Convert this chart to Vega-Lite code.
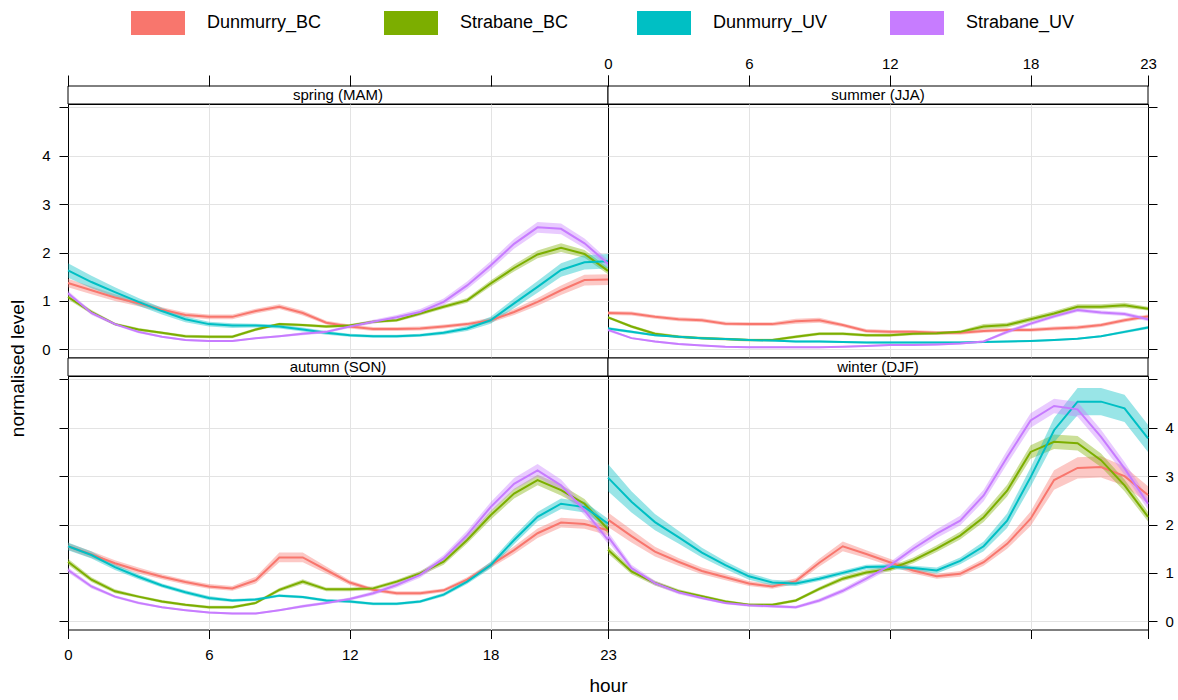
{
"$schema":"https://vega.github.io/schema/vega-lite/v6.json",
"padding":{"left":8,"top":-4,"right":2,"bottom":2},
"config":{
 "font":"Liberation Sans",
 "view":{"stroke":"#000","strokeWidth":1},
 "axis":{"domain":false,"grid":true,"gridColor":"#e3e3e3","gridWidth":1,"tickColor":"#000","tickWidth":1,"tickSize":9,"labelColor":"#000","labelFont":"Liberation Sans","labelFontSize":15,"labelFlush":false,"labelOverlap":false,"titleFont":"Liberation Sans","titleFontSize":19,"titleFontWeight":"normal","titleColor":"#000"}
},
"datasets":{
"spring":[
{"hour":0,"series":"Dunmurry_BC","mean":1.37,"lo":1.28,"hi":1.46},{"hour":1,"series":"Dunmurry_BC","mean":1.22,"lo":1.14,"hi":1.30},{"hour":2,"series":"Dunmurry_BC","mean":1.07,"lo":1.00,"hi":1.14},{"hour":3,"series":"Dunmurry_BC","mean":0.95,"lo":0.89,"hi":1.01},{"hour":4,"series":"Dunmurry_BC","mean":0.82,"lo":0.77,"hi":0.87},{"hour":5,"series":"Dunmurry_BC","mean":0.71,"lo":0.66,"hi":0.76},{"hour":6,"series":"Dunmurry_BC","mean":0.67,"lo":0.62,"hi":0.72},{"hour":7,"series":"Dunmurry_BC","mean":0.67,"lo":0.62,"hi":0.72},{"hour":8,"series":"Dunmurry_BC","mean":0.79,"lo":0.74,"hi":0.84},{"hour":9,"series":"Dunmurry_BC","mean":0.88,"lo":0.83,"hi":0.93},{"hour":10,"series":"Dunmurry_BC","mean":0.75,"lo":0.70,"hi":0.80},{"hour":11,"series":"Dunmurry_BC","mean":0.55,"lo":0.51,"hi":0.59},{"hour":12,"series":"Dunmurry_BC","mean":0.47,"lo":0.43,"hi":0.51},{"hour":13,"series":"Dunmurry_BC","mean":0.42,"lo":0.38,"hi":0.46},{"hour":14,"series":"Dunmurry_BC","mean":0.42,"lo":0.38,"hi":0.46},{"hour":15,"series":"Dunmurry_BC","mean":0.43,"lo":0.39,"hi":0.47},{"hour":16,"series":"Dunmurry_BC","mean":0.47,"lo":0.43,"hi":0.51},{"hour":17,"series":"Dunmurry_BC","mean":0.52,"lo":0.48,"hi":0.56},{"hour":18,"series":"Dunmurry_BC","mean":0.60,"lo":0.55,"hi":0.65},{"hour":19,"series":"Dunmurry_BC","mean":0.77,"lo":0.71,"hi":0.83},{"hour":20,"series":"Dunmurry_BC","mean":0.98,"lo":0.90,"hi":1.06},{"hour":21,"series":"Dunmurry_BC","mean":1.22,"lo":1.12,"hi":1.32},{"hour":22,"series":"Dunmurry_BC","mean":1.43,"lo":1.32,"hi":1.54},{"hour":23,"series":"Dunmurry_BC","mean":1.44,"lo":1.33,"hi":1.55},
{"hour":0,"series":"Strabane_BC","mean":1.08,"lo":1.03,"hi":1.13},{"hour":1,"series":"Strabane_BC","mean":0.77,"lo":0.73,"hi":0.81},{"hour":2,"series":"Strabane_BC","mean":0.52,"lo":0.49,"hi":0.55},{"hour":3,"series":"Strabane_BC","mean":0.41,"lo":0.38,"hi":0.44},{"hour":4,"series":"Strabane_BC","mean":0.34,"lo":0.31,"hi":0.37},{"hour":5,"series":"Strabane_BC","mean":0.27,"lo":0.24,"hi":0.30},{"hour":6,"series":"Strabane_BC","mean":0.26,"lo":0.23,"hi":0.29},{"hour":7,"series":"Strabane_BC","mean":0.26,"lo":0.23,"hi":0.29},{"hour":8,"series":"Strabane_BC","mean":0.41,"lo":0.38,"hi":0.44},{"hour":9,"series":"Strabane_BC","mean":0.52,"lo":0.49,"hi":0.55},{"hour":10,"series":"Strabane_BC","mean":0.50,"lo":0.47,"hi":0.53},{"hour":11,"series":"Strabane_BC","mean":0.47,"lo":0.44,"hi":0.50},{"hour":12,"series":"Strabane_BC","mean":0.49,"lo":0.46,"hi":0.52},{"hour":13,"series":"Strabane_BC","mean":0.57,"lo":0.54,"hi":0.60},{"hour":14,"series":"Strabane_BC","mean":0.60,"lo":0.57,"hi":0.63},{"hour":15,"series":"Strabane_BC","mean":0.74,"lo":0.70,"hi":0.78},{"hour":16,"series":"Strabane_BC","mean":0.88,"lo":0.84,"hi":0.92},{"hour":17,"series":"Strabane_BC","mean":1.01,"lo":0.96,"hi":1.06},{"hour":18,"series":"Strabane_BC","mean":1.36,"lo":1.30,"hi":1.42},{"hour":19,"series":"Strabane_BC","mean":1.68,"lo":1.61,"hi":1.75},{"hour":20,"series":"Strabane_BC","mean":1.96,"lo":1.88,"hi":2.04},{"hour":21,"series":"Strabane_BC","mean":2.10,"lo":2.01,"hi":2.19},{"hour":22,"series":"Strabane_BC","mean":1.97,"lo":1.89,"hi":2.05},{"hour":23,"series":"Strabane_BC","mean":1.62,"lo":1.55,"hi":1.69},
{"hour":0,"series":"Dunmurry_UV","mean":1.63,"lo":1.48,"hi":1.78},{"hour":1,"series":"Dunmurry_UV","mean":1.39,"lo":1.26,"hi":1.52},{"hour":2,"series":"Dunmurry_UV","mean":1.18,"lo":1.08,"hi":1.28},{"hour":3,"series":"Dunmurry_UV","mean":0.98,"lo":0.90,"hi":1.06},{"hour":4,"series":"Dunmurry_UV","mean":0.79,"lo":0.72,"hi":0.86},{"hour":5,"series":"Dunmurry_UV","mean":0.62,"lo":0.56,"hi":0.68},{"hour":6,"series":"Dunmurry_UV","mean":0.52,"lo":0.47,"hi":0.57},{"hour":7,"series":"Dunmurry_UV","mean":0.49,"lo":0.44,"hi":0.54},{"hour":8,"series":"Dunmurry_UV","mean":0.49,"lo":0.45,"hi":0.53},{"hour":9,"series":"Dunmurry_UV","mean":0.47,"lo":0.43,"hi":0.51},{"hour":10,"series":"Dunmurry_UV","mean":0.41,"lo":0.37,"hi":0.45},{"hour":11,"series":"Dunmurry_UV","mean":0.34,"lo":0.30,"hi":0.38},{"hour":12,"series":"Dunmurry_UV","mean":0.29,"lo":0.26,"hi":0.32},{"hour":13,"series":"Dunmurry_UV","mean":0.27,"lo":0.24,"hi":0.30},{"hour":14,"series":"Dunmurry_UV","mean":0.27,"lo":0.24,"hi":0.30},{"hour":15,"series":"Dunmurry_UV","mean":0.29,"lo":0.26,"hi":0.32},{"hour":16,"series":"Dunmurry_UV","mean":0.34,"lo":0.30,"hi":0.38},{"hour":17,"series":"Dunmurry_UV","mean":0.43,"lo":0.38,"hi":0.48},{"hour":18,"series":"Dunmurry_UV","mean":0.60,"lo":0.53,"hi":0.67},{"hour":19,"series":"Dunmurry_UV","mean":0.95,"lo":0.85,"hi":1.05},{"hour":20,"series":"Dunmurry_UV","mean":1.29,"lo":1.17,"hi":1.41},{"hour":21,"series":"Dunmurry_UV","mean":1.64,"lo":1.50,"hi":1.78},{"hour":22,"series":"Dunmurry_UV","mean":1.80,"lo":1.65,"hi":1.95},{"hour":23,"series":"Dunmurry_UV","mean":1.82,"lo":1.67,"hi":1.97},
{"hour":0,"series":"Strabane_UV","mean":1.16,"lo":1.11,"hi":1.21},{"hour":1,"series":"Strabane_UV","mean":0.75,"lo":0.71,"hi":0.79},{"hour":2,"series":"Strabane_UV","mean":0.52,"lo":0.49,"hi":0.55},{"hour":3,"series":"Strabane_UV","mean":0.36,"lo":0.33,"hi":0.39},{"hour":4,"series":"Strabane_UV","mean":0.26,"lo":0.24,"hi":0.28},{"hour":5,"series":"Strabane_UV","mean":0.19,"lo":0.17,"hi":0.21},{"hour":6,"series":"Strabane_UV","mean":0.17,"lo":0.15,"hi":0.19},{"hour":7,"series":"Strabane_UV","mean":0.17,"lo":0.15,"hi":0.19},{"hour":8,"series":"Strabane_UV","mean":0.23,"lo":0.21,"hi":0.25},{"hour":9,"series":"Strabane_UV","mean":0.27,"lo":0.25,"hi":0.29},{"hour":10,"series":"Strabane_UV","mean":0.32,"lo":0.29,"hi":0.35},{"hour":11,"series":"Strabane_UV","mean":0.36,"lo":0.33,"hi":0.39},{"hour":12,"series":"Strabane_UV","mean":0.47,"lo":0.44,"hi":0.50},{"hour":13,"series":"Strabane_UV","mean":0.57,"lo":0.53,"hi":0.61},{"hour":14,"series":"Strabane_UV","mean":0.66,"lo":0.61,"hi":0.71},{"hour":15,"series":"Strabane_UV","mean":0.77,"lo":0.71,"hi":0.83},{"hour":16,"series":"Strabane_UV","mean":0.98,"lo":0.91,"hi":1.05},{"hour":17,"series":"Strabane_UV","mean":1.32,"lo":1.24,"hi":1.40},{"hour":18,"series":"Strabane_UV","mean":1.73,"lo":1.64,"hi":1.82},{"hour":19,"series":"Strabane_UV","mean":2.18,"lo":2.08,"hi":2.28},{"hour":20,"series":"Strabane_UV","mean":2.52,"lo":2.41,"hi":2.63},{"hour":21,"series":"Strabane_UV","mean":2.49,"lo":2.38,"hi":2.60},{"hour":22,"series":"Strabane_UV","mean":2.19,"lo":2.09,"hi":2.29},{"hour":23,"series":"Strabane_UV","mean":1.77,"lo":1.69,"hi":1.85}
],
"summer":[
{"hour":0,"series":"Dunmurry_BC","mean":0.75,"lo":0.71,"hi":0.79},{"hour":1,"series":"Dunmurry_BC","mean":0.74,"lo":0.70,"hi":0.78},{"hour":2,"series":"Dunmurry_BC","mean":0.67,"lo":0.63,"hi":0.71},{"hour":3,"series":"Dunmurry_BC","mean":0.62,"lo":0.58,"hi":0.66},{"hour":4,"series":"Dunmurry_BC","mean":0.60,"lo":0.56,"hi":0.64},{"hour":5,"series":"Dunmurry_BC","mean":0.53,"lo":0.49,"hi":0.57},{"hour":6,"series":"Dunmurry_BC","mean":0.52,"lo":0.48,"hi":0.56},{"hour":7,"series":"Dunmurry_BC","mean":0.52,"lo":0.48,"hi":0.56},{"hour":8,"series":"Dunmurry_BC","mean":0.58,"lo":0.53,"hi":0.63},{"hour":9,"series":"Dunmurry_BC","mean":0.60,"lo":0.55,"hi":0.65},{"hour":10,"series":"Dunmurry_BC","mean":0.50,"lo":0.46,"hi":0.54},{"hour":11,"series":"Dunmurry_BC","mean":0.38,"lo":0.34,"hi":0.42},{"hour":12,"series":"Dunmurry_BC","mean":0.36,"lo":0.32,"hi":0.40},{"hour":13,"series":"Dunmurry_BC","mean":0.36,"lo":0.32,"hi":0.40},{"hour":14,"series":"Dunmurry_BC","mean":0.34,"lo":0.30,"hi":0.38},{"hour":15,"series":"Dunmurry_BC","mean":0.34,"lo":0.30,"hi":0.38},{"hour":16,"series":"Dunmurry_BC","mean":0.38,"lo":0.34,"hi":0.42},{"hour":17,"series":"Dunmurry_BC","mean":0.40,"lo":0.36,"hi":0.44},{"hour":18,"series":"Dunmurry_BC","mean":0.40,"lo":0.36,"hi":0.44},{"hour":19,"series":"Dunmurry_BC","mean":0.43,"lo":0.39,"hi":0.47},{"hour":20,"series":"Dunmurry_BC","mean":0.45,"lo":0.41,"hi":0.49},{"hour":21,"series":"Dunmurry_BC","mean":0.50,"lo":0.46,"hi":0.54},{"hour":22,"series":"Dunmurry_BC","mean":0.60,"lo":0.56,"hi":0.64},{"hour":23,"series":"Dunmurry_BC","mean":0.68,"lo":0.64,"hi":0.72},
{"hour":0,"series":"Strabane_BC","mean":0.66,"lo":0.63,"hi":0.69},{"hour":1,"series":"Strabane_BC","mean":0.47,"lo":0.44,"hi":0.50},{"hour":2,"series":"Strabane_BC","mean":0.32,"lo":0.29,"hi":0.35},{"hour":3,"series":"Strabane_BC","mean":0.26,"lo":0.23,"hi":0.29},{"hour":4,"series":"Strabane_BC","mean":0.23,"lo":0.20,"hi":0.26},{"hour":5,"series":"Strabane_BC","mean":0.21,"lo":0.18,"hi":0.24},{"hour":6,"series":"Strabane_BC","mean":0.19,"lo":0.16,"hi":0.22},{"hour":7,"series":"Strabane_BC","mean":0.19,"lo":0.16,"hi":0.22},{"hour":8,"series":"Strabane_BC","mean":0.26,"lo":0.23,"hi":0.29},{"hour":9,"series":"Strabane_BC","mean":0.32,"lo":0.29,"hi":0.35},{"hour":10,"series":"Strabane_BC","mean":0.32,"lo":0.29,"hi":0.35},{"hour":11,"series":"Strabane_BC","mean":0.29,"lo":0.26,"hi":0.32},{"hour":12,"series":"Strabane_BC","mean":0.29,"lo":0.26,"hi":0.32},{"hour":13,"series":"Strabane_BC","mean":0.32,"lo":0.29,"hi":0.35},{"hour":14,"series":"Strabane_BC","mean":0.33,"lo":0.30,"hi":0.36},{"hour":15,"series":"Strabane_BC","mean":0.36,"lo":0.33,"hi":0.39},{"hour":16,"series":"Strabane_BC","mean":0.47,"lo":0.42,"hi":0.52},{"hour":17,"series":"Strabane_BC","mean":0.50,"lo":0.45,"hi":0.55},{"hour":18,"series":"Strabane_BC","mean":0.62,"lo":0.57,"hi":0.67},{"hour":19,"series":"Strabane_BC","mean":0.74,"lo":0.69,"hi":0.79},{"hour":20,"series":"Strabane_BC","mean":0.88,"lo":0.83,"hi":0.93},{"hour":21,"series":"Strabane_BC","mean":0.88,"lo":0.83,"hi":0.93},{"hour":22,"series":"Strabane_BC","mean":0.91,"lo":0.86,"hi":0.96},{"hour":23,"series":"Strabane_BC","mean":0.84,"lo":0.80,"hi":0.88},
{"hour":0,"series":"Dunmurry_UV","mean":0.43,"lo":0.40,"hi":0.46},{"hour":1,"series":"Dunmurry_UV","mean":0.36,"lo":0.33,"hi":0.39},{"hour":2,"series":"Dunmurry_UV","mean":0.29,"lo":0.27,"hi":0.31},{"hour":3,"series":"Dunmurry_UV","mean":0.26,"lo":0.24,"hi":0.28},{"hour":4,"series":"Dunmurry_UV","mean":0.23,"lo":0.21,"hi":0.25},{"hour":5,"series":"Dunmurry_UV","mean":0.21,"lo":0.19,"hi":0.23},{"hour":6,"series":"Dunmurry_UV","mean":0.19,"lo":0.17,"hi":0.21},{"hour":7,"series":"Dunmurry_UV","mean":0.18,"lo":0.16,"hi":0.20},{"hour":8,"series":"Dunmurry_UV","mean":0.16,"lo":0.14,"hi":0.18},{"hour":9,"series":"Dunmurry_UV","mean":0.16,"lo":0.14,"hi":0.18},{"hour":10,"series":"Dunmurry_UV","mean":0.15,"lo":0.13,"hi":0.17},{"hour":11,"series":"Dunmurry_UV","mean":0.14,"lo":0.12,"hi":0.16},{"hour":12,"series":"Dunmurry_UV","mean":0.14,"lo":0.12,"hi":0.16},{"hour":13,"series":"Dunmurry_UV","mean":0.14,"lo":0.12,"hi":0.16},{"hour":14,"series":"Dunmurry_UV","mean":0.14,"lo":0.12,"hi":0.16},{"hour":15,"series":"Dunmurry_UV","mean":0.14,"lo":0.12,"hi":0.16},{"hour":16,"series":"Dunmurry_UV","mean":0.15,"lo":0.13,"hi":0.17},{"hour":17,"series":"Dunmurry_UV","mean":0.16,"lo":0.14,"hi":0.18},{"hour":18,"series":"Dunmurry_UV","mean":0.17,"lo":0.15,"hi":0.19},{"hour":19,"series":"Dunmurry_UV","mean":0.19,"lo":0.17,"hi":0.21},{"hour":20,"series":"Dunmurry_UV","mean":0.22,"lo":0.20,"hi":0.24},{"hour":21,"series":"Dunmurry_UV","mean":0.27,"lo":0.25,"hi":0.29},{"hour":22,"series":"Dunmurry_UV","mean":0.36,"lo":0.33,"hi":0.39},{"hour":23,"series":"Dunmurry_UV","mean":0.45,"lo":0.42,"hi":0.48},
{"hour":0,"series":"Strabane_UV","mean":0.40,"lo":0.37,"hi":0.43},{"hour":1,"series":"Strabane_UV","mean":0.23,"lo":0.21,"hi":0.25},{"hour":2,"series":"Strabane_UV","mean":0.16,"lo":0.14,"hi":0.18},{"hour":3,"series":"Strabane_UV","mean":0.11,"lo":0.09,"hi":0.13},{"hour":4,"series":"Strabane_UV","mean":0.08,"lo":0.06,"hi":0.10},{"hour":5,"series":"Strabane_UV","mean":0.05,"lo":0.03,"hi":0.07},{"hour":6,"series":"Strabane_UV","mean":0.04,"lo":0.02,"hi":0.06},{"hour":7,"series":"Strabane_UV","mean":0.04,"lo":0.02,"hi":0.06},{"hour":8,"series":"Strabane_UV","mean":0.04,"lo":0.02,"hi":0.06},{"hour":9,"series":"Strabane_UV","mean":0.04,"lo":0.02,"hi":0.06},{"hour":10,"series":"Strabane_UV","mean":0.05,"lo":0.03,"hi":0.07},{"hour":11,"series":"Strabane_UV","mean":0.07,"lo":0.05,"hi":0.09},{"hour":12,"series":"Strabane_UV","mean":0.09,"lo":0.07,"hi":0.11},{"hour":13,"series":"Strabane_UV","mean":0.09,"lo":0.07,"hi":0.11},{"hour":14,"series":"Strabane_UV","mean":0.10,"lo":0.08,"hi":0.12},{"hour":15,"series":"Strabane_UV","mean":0.12,"lo":0.10,"hi":0.14},{"hour":16,"series":"Strabane_UV","mean":0.16,"lo":0.14,"hi":0.18},{"hour":17,"series":"Strabane_UV","mean":0.36,"lo":0.32,"hi":0.40},{"hour":18,"series":"Strabane_UV","mean":0.53,"lo":0.49,"hi":0.57},{"hour":19,"series":"Strabane_UV","mean":0.68,"lo":0.64,"hi":0.72},{"hour":20,"series":"Strabane_UV","mean":0.81,"lo":0.77,"hi":0.85},{"hour":21,"series":"Strabane_UV","mean":0.76,"lo":0.72,"hi":0.80},{"hour":22,"series":"Strabane_UV","mean":0.73,"lo":0.69,"hi":0.77},{"hour":23,"series":"Strabane_UV","mean":0.62,"lo":0.58,"hi":0.66}
],
"autumn":[
{"hour":0,"series":"Dunmurry_BC","mean":1.55,"lo":1.48,"hi":1.62},{"hour":1,"series":"Dunmurry_BC","mean":1.38,"lo":1.31,"hi":1.45},{"hour":2,"series":"Dunmurry_BC","mean":1.20,"lo":1.14,"hi":1.26},{"hour":3,"series":"Dunmurry_BC","mean":1.05,"lo":0.99,"hi":1.11},{"hour":4,"series":"Dunmurry_BC","mean":0.92,"lo":0.87,"hi":0.97},{"hour":5,"series":"Dunmurry_BC","mean":0.81,"lo":0.76,"hi":0.86},{"hour":6,"series":"Dunmurry_BC","mean":0.72,"lo":0.67,"hi":0.77},{"hour":7,"series":"Dunmurry_BC","mean":0.68,"lo":0.63,"hi":0.73},{"hour":8,"series":"Dunmurry_BC","mean":0.85,"lo":0.78,"hi":0.92},{"hour":9,"series":"Dunmurry_BC","mean":1.32,"lo":1.22,"hi":1.42},{"hour":10,"series":"Dunmurry_BC","mean":1.32,"lo":1.22,"hi":1.42},{"hour":11,"series":"Dunmurry_BC","mean":1.06,"lo":0.99,"hi":1.13},{"hour":12,"series":"Dunmurry_BC","mean":0.80,"lo":0.75,"hi":0.85},{"hour":13,"series":"Dunmurry_BC","mean":0.65,"lo":0.61,"hi":0.69},{"hour":14,"series":"Dunmurry_BC","mean":0.58,"lo":0.54,"hi":0.62},{"hour":15,"series":"Dunmurry_BC","mean":0.58,"lo":0.54,"hi":0.62},{"hour":16,"series":"Dunmurry_BC","mean":0.64,"lo":0.60,"hi":0.68},{"hour":17,"series":"Dunmurry_BC","mean":0.86,"lo":0.81,"hi":0.91},{"hour":18,"series":"Dunmurry_BC","mean":1.16,"lo":1.10,"hi":1.22},{"hour":19,"series":"Dunmurry_BC","mean":1.47,"lo":1.39,"hi":1.55},{"hour":20,"series":"Dunmurry_BC","mean":1.82,"lo":1.72,"hi":1.92},{"hour":21,"series":"Dunmurry_BC","mean":2.04,"lo":1.94,"hi":2.14},{"hour":22,"series":"Dunmurry_BC","mean":2.01,"lo":1.91,"hi":2.11},{"hour":23,"series":"Dunmurry_BC","mean":1.88,"lo":1.78,"hi":1.98},
{"hour":0,"series":"Strabane_BC","mean":1.23,"lo":1.17,"hi":1.29},{"hour":1,"series":"Strabane_BC","mean":0.86,"lo":0.81,"hi":0.91},{"hour":2,"series":"Strabane_BC","mean":0.62,"lo":0.58,"hi":0.66},{"hour":3,"series":"Strabane_BC","mean":0.51,"lo":0.48,"hi":0.54},{"hour":4,"series":"Strabane_BC","mean":0.41,"lo":0.38,"hi":0.44},{"hour":5,"series":"Strabane_BC","mean":0.34,"lo":0.31,"hi":0.37},{"hour":6,"series":"Strabane_BC","mean":0.29,"lo":0.26,"hi":0.32},{"hour":7,"series":"Strabane_BC","mean":0.29,"lo":0.26,"hi":0.32},{"hour":8,"series":"Strabane_BC","mean":0.38,"lo":0.35,"hi":0.41},{"hour":9,"series":"Strabane_BC","mean":0.65,"lo":0.61,"hi":0.69},{"hour":10,"series":"Strabane_BC","mean":0.82,"lo":0.77,"hi":0.87},{"hour":11,"series":"Strabane_BC","mean":0.66,"lo":0.62,"hi":0.70},{"hour":12,"series":"Strabane_BC","mean":0.66,"lo":0.62,"hi":0.70},{"hour":13,"series":"Strabane_BC","mean":0.68,"lo":0.64,"hi":0.72},{"hour":14,"series":"Strabane_BC","mean":0.82,"lo":0.78,"hi":0.86},{"hour":15,"series":"Strabane_BC","mean":0.99,"lo":0.94,"hi":1.04},{"hour":16,"series":"Strabane_BC","mean":1.23,"lo":1.17,"hi":1.29},{"hour":17,"series":"Strabane_BC","mean":1.68,"lo":1.61,"hi":1.75},{"hour":18,"series":"Strabane_BC","mean":2.19,"lo":2.10,"hi":2.28},{"hour":19,"series":"Strabane_BC","mean":2.64,"lo":2.54,"hi":2.74},{"hour":20,"series":"Strabane_BC","mean":2.92,"lo":2.81,"hi":3.03},{"hour":21,"series":"Strabane_BC","mean":2.71,"lo":2.60,"hi":2.82},{"hour":22,"series":"Strabane_BC","mean":2.43,"lo":2.33,"hi":2.53},{"hour":23,"series":"Strabane_BC","mean":1.90,"lo":1.81,"hi":1.99},
{"hour":0,"series":"Dunmurry_UV","mean":1.55,"lo":1.47,"hi":1.63},{"hour":1,"series":"Dunmurry_UV","mean":1.37,"lo":1.30,"hi":1.44},{"hour":2,"series":"Dunmurry_UV","mean":1.12,"lo":1.06,"hi":1.18},{"hour":3,"series":"Dunmurry_UV","mean":0.92,"lo":0.87,"hi":0.97},{"hour":4,"series":"Dunmurry_UV","mean":0.74,"lo":0.70,"hi":0.78},{"hour":5,"series":"Dunmurry_UV","mean":0.60,"lo":0.56,"hi":0.64},{"hour":6,"series":"Dunmurry_UV","mean":0.48,"lo":0.44,"hi":0.52},{"hour":7,"series":"Dunmurry_UV","mean":0.43,"lo":0.40,"hi":0.46},{"hour":8,"series":"Dunmurry_UV","mean":0.45,"lo":0.42,"hi":0.48},{"hour":9,"series":"Dunmurry_UV","mean":0.53,"lo":0.50,"hi":0.56},{"hour":10,"series":"Dunmurry_UV","mean":0.50,"lo":0.47,"hi":0.53},{"hour":11,"series":"Dunmurry_UV","mean":0.43,"lo":0.40,"hi":0.46},{"hour":12,"series":"Dunmurry_UV","mean":0.41,"lo":0.38,"hi":0.44},{"hour":13,"series":"Dunmurry_UV","mean":0.36,"lo":0.33,"hi":0.39},{"hour":14,"series":"Dunmurry_UV","mean":0.36,"lo":0.33,"hi":0.39},{"hour":15,"series":"Dunmurry_UV","mean":0.41,"lo":0.38,"hi":0.44},{"hour":16,"series":"Dunmurry_UV","mean":0.55,"lo":0.51,"hi":0.59},{"hour":17,"series":"Dunmurry_UV","mean":0.82,"lo":0.77,"hi":0.87},{"hour":18,"series":"Dunmurry_UV","mean":1.16,"lo":1.09,"hi":1.23},{"hour":19,"series":"Dunmurry_UV","mean":1.68,"lo":1.59,"hi":1.77},{"hour":20,"series":"Dunmurry_UV","mean":2.16,"lo":2.06,"hi":2.26},{"hour":21,"series":"Dunmurry_UV","mean":2.43,"lo":2.32,"hi":2.54},{"hour":22,"series":"Dunmurry_UV","mean":2.36,"lo":2.25,"hi":2.47},{"hour":23,"series":"Dunmurry_UV","mean":2.02,"lo":1.92,"hi":2.12},
{"hour":0,"series":"Strabane_UV","mean":1.06,"lo":1.01,"hi":1.11},{"hour":1,"series":"Strabane_UV","mean":0.72,"lo":0.68,"hi":0.76},{"hour":2,"series":"Strabane_UV","mean":0.51,"lo":0.48,"hi":0.54},{"hour":3,"series":"Strabane_UV","mean":0.38,"lo":0.35,"hi":0.41},{"hour":4,"series":"Strabane_UV","mean":0.29,"lo":0.27,"hi":0.31},{"hour":5,"series":"Strabane_UV","mean":0.23,"lo":0.21,"hi":0.25},{"hour":6,"series":"Strabane_UV","mean":0.18,"lo":0.16,"hi":0.20},{"hour":7,"series":"Strabane_UV","mean":0.16,"lo":0.14,"hi":0.18},{"hour":8,"series":"Strabane_UV","mean":0.16,"lo":0.14,"hi":0.18},{"hour":9,"series":"Strabane_UV","mean":0.23,"lo":0.21,"hi":0.25},{"hour":10,"series":"Strabane_UV","mean":0.31,"lo":0.28,"hi":0.34},{"hour":11,"series":"Strabane_UV","mean":0.38,"lo":0.35,"hi":0.41},{"hour":12,"series":"Strabane_UV","mean":0.46,"lo":0.43,"hi":0.49},{"hour":13,"series":"Strabane_UV","mean":0.58,"lo":0.54,"hi":0.62},{"hour":14,"series":"Strabane_UV","mean":0.75,"lo":0.70,"hi":0.80},{"hour":15,"series":"Strabane_UV","mean":0.96,"lo":0.90,"hi":1.02},{"hour":16,"series":"Strabane_UV","mean":1.30,"lo":1.23,"hi":1.37},{"hour":17,"series":"Strabane_UV","mean":1.78,"lo":1.69,"hi":1.87},{"hour":18,"series":"Strabane_UV","mean":2.36,"lo":2.26,"hi":2.46},{"hour":19,"series":"Strabane_UV","mean":2.84,"lo":2.72,"hi":2.96},{"hour":20,"series":"Strabane_UV","mean":3.12,"lo":2.99,"hi":3.25},{"hour":21,"series":"Strabane_UV","mean":2.81,"lo":2.69,"hi":2.93},{"hour":22,"series":"Strabane_UV","mean":2.29,"lo":2.19,"hi":2.39},{"hour":23,"series":"Strabane_UV","mean":1.68,"lo":1.60,"hi":1.76}
],
"winter":[
{"hour":0,"series":"Dunmurry_BC","mean":2.10,"lo":1.95,"hi":2.25},{"hour":1,"series":"Dunmurry_BC","mean":1.76,"lo":1.63,"hi":1.89},{"hour":2,"series":"Dunmurry_BC","mean":1.44,"lo":1.34,"hi":1.54},{"hour":3,"series":"Dunmurry_BC","mean":1.23,"lo":1.15,"hi":1.31},{"hour":4,"series":"Dunmurry_BC","mean":1.04,"lo":0.97,"hi":1.11},{"hour":5,"series":"Dunmurry_BC","mean":0.91,"lo":0.85,"hi":0.97},{"hour":6,"series":"Dunmurry_BC","mean":0.78,"lo":0.73,"hi":0.83},{"hour":7,"series":"Dunmurry_BC","mean":0.72,"lo":0.67,"hi":0.77},{"hour":8,"series":"Dunmurry_BC","mean":0.83,"lo":0.77,"hi":0.89},{"hour":9,"series":"Dunmurry_BC","mean":1.21,"lo":1.13,"hi":1.29},{"hour":10,"series":"Dunmurry_BC","mean":1.55,"lo":1.45,"hi":1.65},{"hour":11,"series":"Dunmurry_BC","mean":1.39,"lo":1.31,"hi":1.47},{"hour":12,"series":"Dunmurry_BC","mean":1.22,"lo":1.15,"hi":1.29},{"hour":13,"series":"Dunmurry_BC","mean":1.05,"lo":0.99,"hi":1.11},{"hour":14,"series":"Dunmurry_BC","mean":0.93,"lo":0.88,"hi":0.98},{"hour":15,"series":"Dunmurry_BC","mean":0.98,"lo":0.92,"hi":1.04},{"hour":16,"series":"Dunmurry_BC","mean":1.22,"lo":1.15,"hi":1.29},{"hour":17,"series":"Dunmurry_BC","mean":1.60,"lo":1.50,"hi":1.70},{"hour":18,"series":"Dunmurry_BC","mean":2.12,"lo":1.97,"hi":2.27},{"hour":19,"series":"Dunmurry_BC","mean":2.92,"lo":2.72,"hi":3.12},{"hour":20,"series":"Dunmurry_BC","mean":3.17,"lo":2.95,"hi":3.39},{"hour":21,"series":"Dunmurry_BC","mean":3.19,"lo":2.97,"hi":3.41},{"hour":22,"series":"Dunmurry_BC","mean":3.00,"lo":2.80,"hi":3.20},{"hour":23,"series":"Dunmurry_BC","mean":2.61,"lo":2.43,"hi":2.79},
{"hour":0,"series":"Strabane_BC","mean":1.48,"lo":1.40,"hi":1.56},{"hour":1,"series":"Strabane_BC","mean":1.03,"lo":0.97,"hi":1.09},{"hour":2,"series":"Strabane_BC","mean":0.79,"lo":0.74,"hi":0.84},{"hour":3,"series":"Strabane_BC","mean":0.62,"lo":0.58,"hi":0.66},{"hour":4,"series":"Strabane_BC","mean":0.52,"lo":0.49,"hi":0.55},{"hour":5,"series":"Strabane_BC","mean":0.41,"lo":0.38,"hi":0.44},{"hour":6,"series":"Strabane_BC","mean":0.34,"lo":0.31,"hi":0.37},{"hour":7,"series":"Strabane_BC","mean":0.34,"lo":0.31,"hi":0.37},{"hour":8,"series":"Strabane_BC","mean":0.43,"lo":0.40,"hi":0.46},{"hour":9,"series":"Strabane_BC","mean":0.67,"lo":0.63,"hi":0.71},{"hour":10,"series":"Strabane_BC","mean":0.88,"lo":0.83,"hi":0.93},{"hour":11,"series":"Strabane_BC","mean":1.01,"lo":0.96,"hi":1.06},{"hour":12,"series":"Strabane_BC","mean":1.08,"lo":1.03,"hi":1.13},{"hour":13,"series":"Strabane_BC","mean":1.26,"lo":1.20,"hi":1.32},{"hour":14,"series":"Strabane_BC","mean":1.50,"lo":1.43,"hi":1.57},{"hour":15,"series":"Strabane_BC","mean":1.77,"lo":1.69,"hi":1.85},{"hour":16,"series":"Strabane_BC","mean":2.15,"lo":2.05,"hi":2.25},{"hour":17,"series":"Strabane_BC","mean":2.70,"lo":2.58,"hi":2.82},{"hour":18,"series":"Strabane_BC","mean":3.50,"lo":3.36,"hi":3.64},{"hour":19,"series":"Strabane_BC","mean":3.71,"lo":3.56,"hi":3.86},{"hour":20,"series":"Strabane_BC","mean":3.68,"lo":3.53,"hi":3.83},{"hour":21,"series":"Strabane_BC","mean":3.33,"lo":3.19,"hi":3.47},{"hour":22,"series":"Strabane_BC","mean":2.81,"lo":2.69,"hi":2.93},{"hour":23,"series":"Strabane_BC","mean":2.16,"lo":2.06,"hi":2.26},
{"hour":0,"series":"Dunmurry_UV","mean":2.97,"lo":2.69,"hi":3.25},{"hour":1,"series":"Dunmurry_UV","mean":2.47,"lo":2.25,"hi":2.69},{"hour":2,"series":"Dunmurry_UV","mean":2.05,"lo":1.88,"hi":2.22},{"hour":3,"series":"Dunmurry_UV","mean":1.74,"lo":1.61,"hi":1.87},{"hour":4,"series":"Dunmurry_UV","mean":1.42,"lo":1.32,"hi":1.52},{"hour":5,"series":"Dunmurry_UV","mean":1.16,"lo":1.08,"hi":1.24},{"hour":6,"series":"Dunmurry_UV","mean":0.93,"lo":0.86,"hi":1.00},{"hour":7,"series":"Dunmurry_UV","mean":0.80,"lo":0.74,"hi":0.86},{"hour":8,"series":"Dunmurry_UV","mean":0.78,"lo":0.73,"hi":0.83},{"hour":9,"series":"Dunmurry_UV","mean":0.88,"lo":0.83,"hi":0.93},{"hour":10,"series":"Dunmurry_UV","mean":1.00,"lo":0.95,"hi":1.05},{"hour":11,"series":"Dunmurry_UV","mean":1.12,"lo":1.07,"hi":1.17},{"hour":12,"series":"Dunmurry_UV","mean":1.13,"lo":1.08,"hi":1.18},{"hour":13,"series":"Dunmurry_UV","mean":1.10,"lo":1.05,"hi":1.15},{"hour":14,"series":"Dunmurry_UV","mean":1.05,"lo":0.99,"hi":1.11},{"hour":15,"series":"Dunmurry_UV","mean":1.25,"lo":1.18,"hi":1.32},{"hour":16,"series":"Dunmurry_UV","mean":1.55,"lo":1.45,"hi":1.65},{"hour":17,"series":"Dunmurry_UV","mean":2.08,"lo":1.93,"hi":2.23},{"hour":18,"series":"Dunmurry_UV","mean":2.98,"lo":2.78,"hi":3.18},{"hour":19,"series":"Dunmurry_UV","mean":3.95,"lo":3.70,"hi":4.20},{"hour":20,"series":"Dunmurry_UV","mean":4.54,"lo":4.26,"hi":4.82},{"hour":21,"series":"Dunmurry_UV","mean":4.54,"lo":4.26,"hi":4.82},{"hour":22,"series":"Dunmurry_UV","mean":4.40,"lo":4.12,"hi":4.68},{"hour":23,"series":"Dunmurry_UV","mean":3.78,"lo":3.50,"hi":4.06},
{"hour":0,"series":"Strabane_UV","mean":1.75,"lo":1.65,"hi":1.85},{"hour":1,"series":"Strabane_UV","mean":1.10,"lo":1.03,"hi":1.17},{"hour":2,"series":"Strabane_UV","mean":0.79,"lo":0.74,"hi":0.84},{"hour":3,"series":"Strabane_UV","mean":0.60,"lo":0.56,"hi":0.64},{"hour":4,"series":"Strabane_UV","mean":0.48,"lo":0.45,"hi":0.51},{"hour":5,"series":"Strabane_UV","mean":0.38,"lo":0.35,"hi":0.41},{"hour":6,"series":"Strabane_UV","mean":0.33,"lo":0.30,"hi":0.36},{"hour":7,"series":"Strabane_UV","mean":0.31,"lo":0.28,"hi":0.34},{"hour":8,"series":"Strabane_UV","mean":0.29,"lo":0.26,"hi":0.32},{"hour":9,"series":"Strabane_UV","mean":0.43,"lo":0.39,"hi":0.47},{"hour":10,"series":"Strabane_UV","mean":0.63,"lo":0.58,"hi":0.68},{"hour":11,"series":"Strabane_UV","mean":0.88,"lo":0.82,"hi":0.94},{"hour":12,"series":"Strabane_UV","mean":1.15,"lo":1.08,"hi":1.22},{"hour":13,"series":"Strabane_UV","mean":1.50,"lo":1.42,"hi":1.58},{"hour":14,"series":"Strabane_UV","mean":1.81,"lo":1.72,"hi":1.90},{"hour":15,"series":"Strabane_UV","mean":2.08,"lo":1.98,"hi":2.18},{"hour":16,"series":"Strabane_UV","mean":2.60,"lo":2.48,"hi":2.72},{"hour":17,"series":"Strabane_UV","mean":3.39,"lo":3.25,"hi":3.53},{"hour":18,"series":"Strabane_UV","mean":4.15,"lo":4.00,"hi":4.30},{"hour":19,"series":"Strabane_UV","mean":4.45,"lo":4.30,"hi":4.60},{"hour":20,"series":"Strabane_UV","mean":4.38,"lo":4.23,"hi":4.53},{"hour":21,"series":"Strabane_UV","mean":3.81,"lo":3.66,"hi":3.96},{"hour":22,"series":"Strabane_UV","mean":3.16,"lo":3.03,"hi":3.29},{"hour":23,"series":"Strabane_UV","mean":2.43,"lo":2.31,"hi":2.55}
]
},
"columns":2,
"spacing":0,
"bounds":"flush",
"align":"each",
"concat":[
{"width":540,"height":18,"data":{"values":[{"label":"spring (MAM)"}]},"layer":[{"mark":{"type":"rect","fill":"#fff","stroke":"#000","strokeWidth":1},"encoding":{}},{"mark":{"type":"text","fontSize":15,"font":"Liberation Sans","color":"#000"},"encoding":{"text":{"field":"label"}}}]},
{"width":540,"height":18,"data":{"values":[{"label":"summer (JJA)"}]},"layer":[{"mark":{"type":"rect","fill":"#fff","stroke":"#000","strokeWidth":1},"encoding":{}},{"mark":{"type":"text","fontSize":15,"font":"Liberation Sans","color":"#000"},"encoding":{"text":{"field":"label"}}}]},
{"width":540,"height":253.5,"data":{"name":"spring"},"layer":[
 {"mark":{"type":"area","opacity":0.4},"encoding":{
  "x":{"field":"hour","type":"quantitative","scale":{"domain":[0,23],"nice":false,"zero":false},"axis":{"orient":"top","offset":18,"values":[0,6,12,18,23],"labels":false,"tickSize":11,"title":null,"gridColor":{"condition":{"test":"datum.value == 0 || datum.value == 23","value":"#000"},"value":"#e3e3e3"}}},
  "y":{"field":"lo","type":"quantitative","scale":{"domain":[-0.17,5.07],"nice":false,"zero":false},"axis":{"orient":"left","values":[0,1,2,3,4,5],"labelExpr":"datum.value == 5 ? '' : datum.label","labelPadding":9,"title":"normalised level","titleY":264,"titlePadding":14}},
  "y2":{"field":"hi"},
  "color":{"field":"series","type":"nominal","scale":{"domain":["Dunmurry_BC","Strabane_BC","Dunmurry_UV","Strabane_UV"],"range":["#F8766D","#7CAE00","#00BFC4","#C77CFF"]},
   "legend":{"orient":"none","legendX":63,"legendY":-90,"direction":"horizontal","columns":4,"title":null,"symbolType":"M-1,-0.444H1V0.444H-1Z","symbolSize":2916,"symbolStrokeWidth":0,"symbolOpacity":1,"labelFontSize":18,"labelFont":"Liberation Sans","labelColor":"#000","labelOffset":22,"columnPadding":62,"gridAlign":"all","padding":0,"labelLimit":300,
    "encode":{"symbols":{"update":{"fill":{"scale":"color","field":"value"},"stroke":{"value":"transparent"},"opacity":{"value":1}}}}}}}},
 {"mark":{"type":"line","strokeWidth":2},"encoding":{
  "x":{"field":"hour","type":"quantitative","scale":{"domain":[0,23],"nice":false,"zero":false}},
  "y":{"field":"mean","type":"quantitative","scale":{"domain":[-0.17,5.07],"nice":false,"zero":false}},
  "color":{"field":"series","type":"nominal"}}}
]},
{"width":540,"height":253.5,"data":{"name":"summer"},"layer":[
 {"mark":{"type":"area","opacity":0.4},"encoding":{
  "x":{"field":"hour","type":"quantitative","scale":{"domain":[0,23],"nice":false,"zero":false},"axis":{"orient":"top","offset":18,"values":[0,6,12,18,23],"tickSize":11,"labelPadding":4,"title":null,"gridColor":{"condition":{"test":"datum.value == 0 || datum.value == 23","value":"#000"},"value":"#e3e3e3"}}},
  "y":{"field":"lo","type":"quantitative","scale":{"domain":[-0.17,5.07],"nice":false,"zero":false},"axis":{"orient":"right","values":[0,1,2,3,4,5],"labels":false,"title":null}},
  "y2":{"field":"hi"},
  "color":{"field":"series","type":"nominal"}}},
 {"mark":{"type":"line","strokeWidth":2},"encoding":{
  "x":{"field":"hour","type":"quantitative","scale":{"domain":[0,23],"nice":false,"zero":false}},
  "y":{"field":"mean","type":"quantitative","scale":{"domain":[-0.17,5.07],"nice":false,"zero":false}},
  "color":{"field":"series","type":"nominal"}}}
]},
{"width":540,"height":18,"data":{"values":[{"label":"autumn (SON)"}]},"layer":[{"mark":{"type":"rect","fill":"#fff","stroke":"#000","strokeWidth":1},"encoding":{}},{"mark":{"type":"text","fontSize":15,"font":"Liberation Sans","color":"#000"},"encoding":{"text":{"field":"label"}}}]},
{"width":540,"height":18,"data":{"values":[{"label":"winter (DJF)"}]},"layer":[{"mark":{"type":"rect","fill":"#fff","stroke":"#000","strokeWidth":1},"encoding":{}},{"mark":{"type":"text","fontSize":15,"font":"Liberation Sans","color":"#000"},"encoding":{"text":{"field":"label"}}}]},
{"width":540,"height":253.5,"data":{"name":"autumn"},"layer":[
 {"mark":{"type":"area","opacity":0.4},"encoding":{
  "x":{"field":"hour","type":"quantitative","scale":{"domain":[0,23],"nice":false,"zero":false},"axis":{"orient":"bottom","values":[0,6,12,18,23],"labelPadding":9,"title":"hour","titleX":540,"titlePadding":14,"gridColor":{"condition":{"test":"datum.value == 0 || datum.value == 23","value":"#000"},"value":"#e3e3e3"}}},
  "y":{"field":"lo","type":"quantitative","scale":{"domain":[-0.17,5.07],"nice":false,"zero":false},"axis":{"orient":"left","values":[0,1,2,3,4,5],"labels":false,"title":null}},
  "y2":{"field":"hi"},
  "color":{"field":"series","type":"nominal"}}},
 {"mark":{"type":"line","strokeWidth":2},"encoding":{
  "x":{"field":"hour","type":"quantitative","scale":{"domain":[0,23],"nice":false,"zero":false}},
  "y":{"field":"mean","type":"quantitative","scale":{"domain":[-0.17,5.07],"nice":false,"zero":false}},
  "color":{"field":"series","type":"nominal"}}}
]},
{"width":540,"height":253.5,"data":{"name":"winter"},"layer":[
 {"mark":{"type":"area","opacity":0.4},"encoding":{
  "x":{"field":"hour","type":"quantitative","scale":{"domain":[0,23],"nice":false,"zero":false},"axis":{"orient":"bottom","values":[0,6,12,18,23],"labels":false,"title":null,"gridColor":{"condition":{"test":"datum.value == 0 || datum.value == 23","value":"#000"},"value":"#e3e3e3"}}},
  "y":{"field":"lo","type":"quantitative","scale":{"domain":[-0.17,5.07],"nice":false,"zero":false},"axis":{"orient":"right","values":[0,1,2,3,4,5],"labelExpr":"datum.value == 5 ? '' : datum.label","labelPadding":8,"title":null}},
  "y2":{"field":"hi"},
  "color":{"field":"series","type":"nominal"}}},
 {"mark":{"type":"line","strokeWidth":2},"encoding":{
  "x":{"field":"hour","type":"quantitative","scale":{"domain":[0,23],"nice":false,"zero":false}},
  "y":{"field":"mean","type":"quantitative","scale":{"domain":[-0.17,5.07],"nice":false,"zero":false}},
  "color":{"field":"series","type":"nominal"}}}
]}
]
}
